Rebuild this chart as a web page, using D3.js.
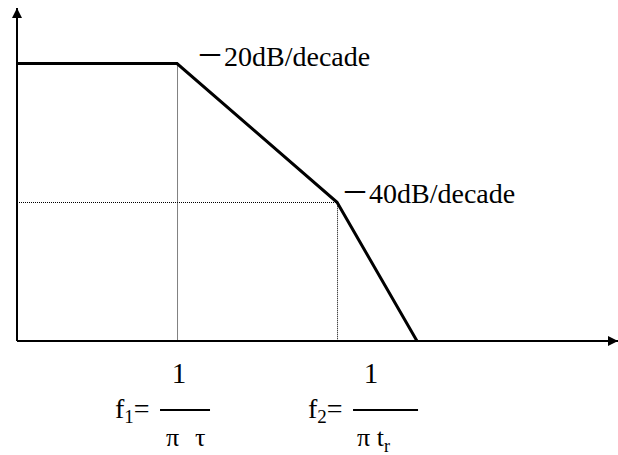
<!DOCTYPE html>
<html>
<head>
<meta charset="utf-8">
<script src="https://cdn.jsdelivr.net/npm/d3@7"></script>
<style>
  body { margin: 0; background: #fff; }
  text { font-family: "Liberation Serif", "Times New Roman", "Noto Sans CJK SC", serif; fill: #000; }
</style>
</head>
<body>
<div id="chart"></div>
<script>
// asymptotic magnitude response (frequency in arbitrary units, gain in dB)
var freq = [0.1, 1, 10, 31.6];
var gain = [0, 0, -20, -40];
// corner frequencies f1, f2 and their gains
var corners = [1, 10];
var cornerGain = [0, -20];
var slopeLabels = ["－20dB/decade", "－40dB/decade"];

// set the dimensions of the graph
var width = 618, height = 455;

var svg = d3.select("#chart")
    .append("svg")
    .attr("width", width)
    .attr("height", height);

var x = d3.scaleLog()
    .domain([0.1, 570])
    .range([17, 618]);

var y = d3.scaleLinear()
    .domain([-40, 8])
    .range([341, 8]);

// arrow head
svg.append("defs").append("marker")
    .attr("id", "arrow")
    .attr("markerUnits", "userSpaceOnUse")
    .attr("viewBox", "0 0 10 10")
    .attr("refX", 10)
    .attr("refY", 5)
    .attr("markerWidth", 11)
    .attr("markerHeight", 10)
    .attr("orient", "auto")
    .append("path")
    .attr("d", "M0,0L10,5L0,10Z")
    .attr("fill", "#000");

// dotted guide lines (half pixel offset keeps the dots crisp)
var dotted = svg.append("g")
    .attr("stroke", "#000")
    .attr("stroke-width", 1)
    .attr("stroke-dasharray", "1,1");
dotted.append("line")
    .attr("x1", x(corners[0]) + 0.5).attr("x2", x(corners[0]) + 0.5)
    .attr("y1", y(cornerGain[0])).attr("y2", y(-40));
dotted.append("line")
    .attr("x1", x(corners[1]) + 0.5).attr("x2", x(corners[1]) + 0.5)
    .attr("y1", y(cornerGain[1])).attr("y2", y(-40));
dotted.append("line")
    .attr("x1", x(0.1)).attr("x2", x(corners[1]))
    .attr("y1", Math.round(y(cornerGain[1])) + 0.5).attr("y2", Math.round(y(cornerGain[1])) + 0.5);

// axes
svg.append("line")
    .attr("x1", x(0.1)).attr("x2", x(0.1))
    .attr("y1", y(-40)).attr("y2", y(8))
    .attr("stroke", "#000").attr("stroke-width", 2)
    .attr("marker-end", "url(#arrow)");
svg.append("line")
    .attr("x1", x(0.1)).attr("x2", x(570))
    .attr("y1", y(-40)).attr("y2", y(-40))
    .attr("stroke", "#000").attr("stroke-width", 2)
    .attr("marker-end", "url(#arrow)");

// the response curve
svg.append("path")
    .datum(d3.zip(freq, gain))
    .attr("fill", "none")
    .attr("stroke", "#000")
    .attr("stroke-width", 3)
    .attr("stroke-linejoin", "miter")
    .attr("d", d3.line()
        .x(function(d) { return x(d[0]); })
        .y(function(d) { return y(d[1]); })
    );

// slope labels
svg.append("text")
    .attr("x", x(corners[0]) + 19)
    .attr("y", y(cornerGain[0]) + 2)
    .style("font-size", "28px")
    .text(slopeLabels[0]);
svg.append("text")
    .attr("x", x(corners[1]) + 4)
    .attr("y", y(cornerGain[1]) + 1)
    .style("font-size", "28px")
    .text(slopeLabels[1]);

// corner frequency formulas
function formula(g, sub, numX, barX1, barX2) {
    var f = g.append("text").attr("x", 0).attr("y", 418).style("font-size", "28px");
    f.append("tspan").text("f");
    f.append("tspan").attr("dy", 5).style("font-size", "19px").text(sub);
    f.append("tspan").attr("dy", -5).text("=");
    g.append("text")
        .attr("x", numX).attr("y", 383)
        .attr("text-anchor", "middle")
        .style("font-size", "29px")
        .text("1");
    g.append("line")
        .attr("x1", barX1).attr("x2", barX2)
        .attr("y1", 410).attr("y2", 410)
        .attr("stroke", "#000").attr("stroke-width", 2);
}

var g1 = svg.append("g").attr("transform", "translate(" + (x(corners[0]) - 62) + ",0)");
formula(g1, "1", 64, 45, 95);
g1.append("text").attr("x", 51).attr("y", 446).style("font-size", "26px").text("π");
g1.append("text").attr("x", 80).attr("y", 446).style("font-size", "26px").text("τ");

var g2 = svg.append("g").attr("transform", "translate(" + (x(corners[1]) - 29) + ",0)");
formula(g2, "2", 63, 45, 110);
var den = g2.append("text").attr("x", 49).attr("y", 446).style("font-size", "26px");
den.append("tspan").text("π t");
den.append("tspan").attr("dy", 6).style("font-size", "18px").text("r");
</script>
</body>
</html>
